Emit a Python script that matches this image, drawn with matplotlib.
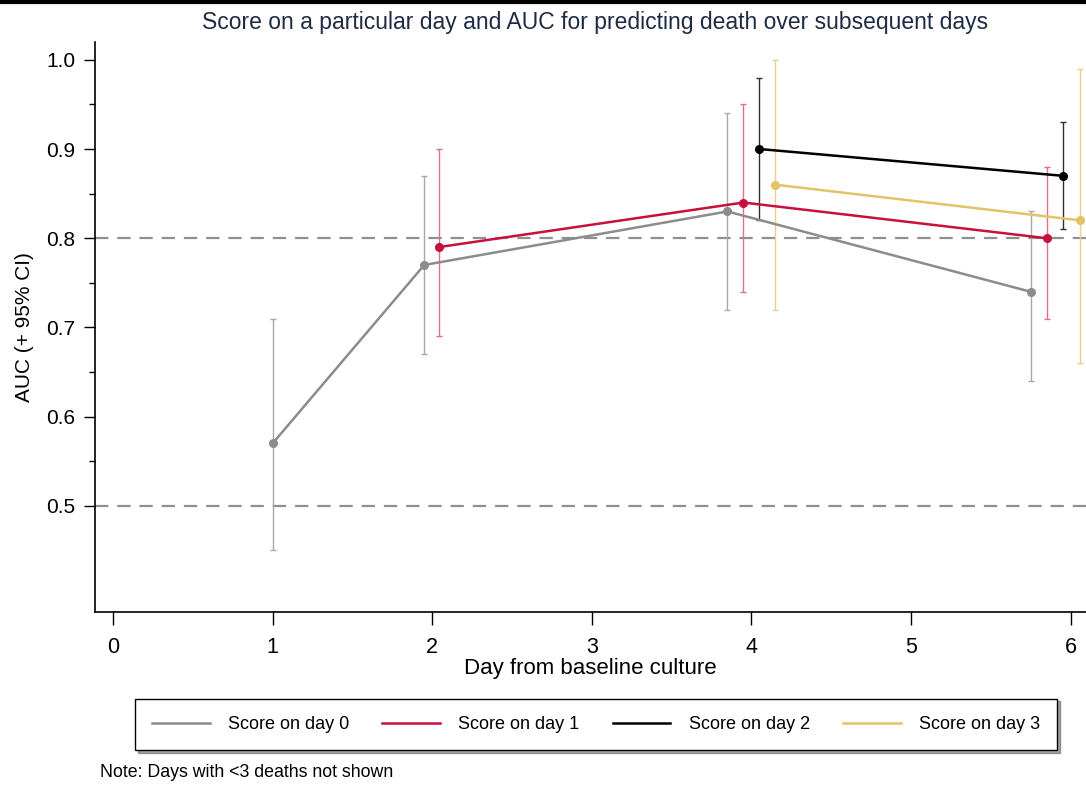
import matplotlib
matplotlib.use('Agg')
import matplotlib.pyplot as plt
from matplotlib.lines import Line2D

# x positions (days, slightly offset per series), AUC and 95% CI
day0_x = [1.0, 1.95, 3.85, 5.75]
day0_auc = [0.57, 0.77, 0.83, 0.74]
day0_lo = [0.45, 0.67, 0.72, 0.64]
day0_hi = [0.71, 0.87, 0.94, 0.83]

day1_x = [2.04, 3.95, 5.85]
day1_auc = [0.79, 0.84, 0.80]
day1_lo = [0.69, 0.74, 0.71]
day1_hi = [0.90, 0.95, 0.88]

day2_x = [4.05, 5.95]
day2_auc = [0.90, 0.87]
day2_lo = [0.82, 0.81]
day2_hi = [0.98, 0.93]

day3_x = [4.15, 6.06]
day3_auc = [0.86, 0.82]
day3_lo = [0.72, 0.66]
day3_hi = [1.00, 0.99]

labels = ['Score on day 0', 'Score on day 1', 'Score on day 2', 'Score on day 3']
colors = ['#8c8c8c', '#c8103c', '#000000', '#e2c468']
ci_colors = ['#a8a8a8', '#e0708a', '#303030', '#e8d08a']
ref_lines = [0.8, 0.5]

plt.rcParams['font.family'] = ['Liberation Sans', 'DejaVu Sans']


def main():
	fig = plt.figure(figsize=(10.86, 7.86), dpi=100)
	ax = fig.add_axes([0.0875, 0.2214, 0.9125, 0.7252])

	for y in ref_lines:
		ax.axhline(y, color='#909090', lw=1.6, ls=(0, (6, 4)), zorder=1)

	series = [(day0_x, day0_auc, day0_lo, day0_hi),
			  (day1_x, day1_auc, day1_lo, day1_hi),
			  (day2_x, day2_auc, day2_lo, day2_hi),
			  (day3_x, day3_auc, day3_lo, day3_hi)]
	handles = []
	for i, (xs, auc, lo, hi) in enumerate(series):
		err = [[a - l for a, l in zip(auc, lo)], [h - a for a, h in zip(auc, hi)]]
		ax.errorbar(xs, auc, yerr=err, fmt='none', ecolor=ci_colors[i],
					elinewidth=1.0, capsize=2.5, capthick=1.0, zorder=2)
		ax.plot(xs, auc, color=colors[i], lw=1.8, marker='o', ms=5.5, zorder=3)
		handles.append(Line2D([], [], color=colors[i], lw=1.8))

	ax.set_xlim(-0.113, 6.097)
	ax.set_ylim(0.381, 1.02)
	ax.set_xticks(range(0, 7))
	ax.set_yticks([0.5, 0.6, 0.7, 0.8, 0.9, 1.0])
	ax.set_yticklabels(['0.5', '0.6', '0.7', '0.8', '0.9', '1.0'])
	ax.set_yticks([0.55, 0.65, 0.75, 0.85, 0.95], minor=True)
	ax.spines['top'].set_visible(False)
	ax.spines['right'].set_visible(False)
	ax.spines['left'].set_linewidth(1.2)
	ax.spines['bottom'].set_linewidth(1.2)
	ax.tick_params(axis='x', length=9, width=1.0, labelsize=15.5, pad=9)
	ax.tick_params(axis='y', which='major', length=8, width=1.0, labelsize=15, pad=6)
	ax.tick_params(axis='y', which='minor', length=4, width=1.0)

	ax.set_xlabel('Day from baseline culture', fontsize=16, labelpad=0)
	ax.set_ylabel('AUC (+ 95% CI)', fontsize=15, labelpad=9)
	fig.text(0.548, 0.971, 'Score on a particular day and AUC for predicting death over subsequent days',
			 ha='center', va='center', fontsize=16.5, color='#1f2a44')

	leg = fig.legend(handles, labels, loc='lower left',
					 bbox_to_anchor=(0.1243, 0.0458, 0.849, 0.0674), mode='expand',
					 borderaxespad=0, ncol=4, fontsize=13, frameon=True, fancybox=False,
					 shadow=True, edgecolor='black', handlelength=3.2,
					 borderpad=0.95, handletextpad=1.0)
	leg.get_frame().set_linewidth(1.0)

	fig.text(0.092, 0.017, 'Note: Days with <3 deaths not shown', fontsize=12.8, va='center')

	fig.add_artist(Line2D([0, 1], [0.998, 0.998], color='black', lw=3, transform=fig.transFigure))

	fig.savefig('out.png', dpi=100)


if __name__ == "__main__":
	main()
